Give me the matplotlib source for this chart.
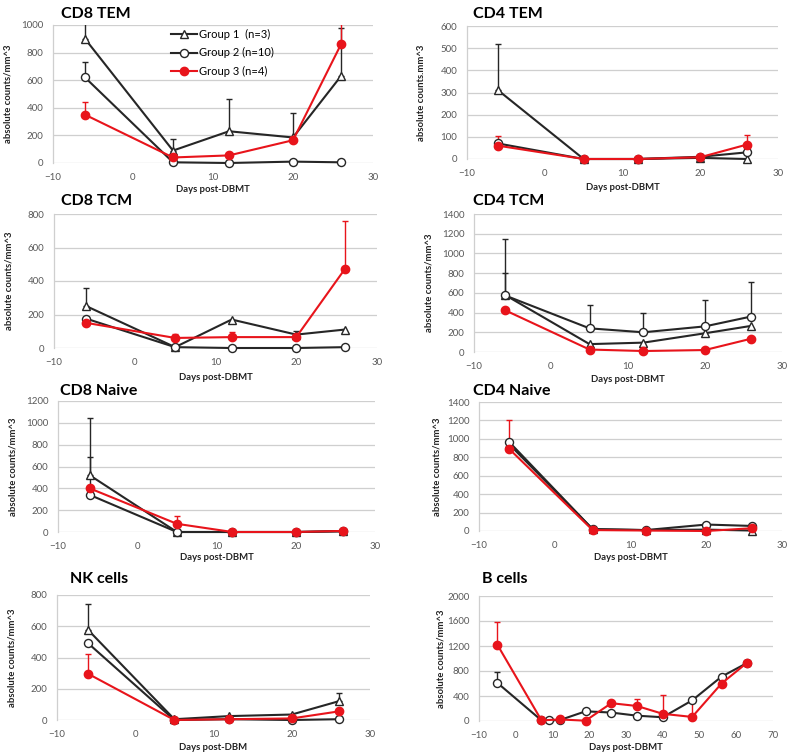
import numpy as np
import matplotlib
matplotlib.use('Agg')
import matplotlib.pyplot as plt

plt.rcParams['font.family'] = ['Lato', 'DejaVu Sans']

# ---------------- data ----------------
days = [-6, 5, 12, 20, 26]
group_labels = ['Group 1  (n=3)', 'Group 2 (n=10)', 'Group 3 (n=4)']

# CD8 TEM
cd8tem_g1 = [900, 90, 230, 185, 630]
cd8tem_g1_err = [160, 85, 235, 180, 350]
cd8tem_g2 = [620, 5, 0, 10, 5]
cd8tem_g2_err = [110, 0, 0, 0, 0]
cd8tem_g3 = [350, 40, 55, 165, 860]
cd8tem_g3_err = [95, 0, 0, 0, 200]

# CD4 TEM
cd4tem_g1 = [310, 0, 0, 5, 0]
cd4tem_g1_err = [210, 0, 0, 0, 0]
cd4tem_g2 = [70, 0, 0, 10, 30]
cd4tem_g2_err = [0, 0, 0, 0, 0]
cd4tem_g3 = [60, 0, 0, 8, 65]
cd4tem_g3_err = [45, 0, 0, 0, 45]

# CD8 TCM
cd8tcm_g1 = [250, 5, 170, 80, 110]
cd8tcm_g1_err = [110, 0, 0, 20, 0]
cd8tcm_g2 = [175, 5, 0, 0, 5]
cd8tcm_g2_err = [0, 0, 0, 0, 0]
cd8tcm_g3 = [150, 60, 65, 65, 470]
cd8tcm_g3_err = [0, 25, 30, 0, 290]

# CD4 TCM
cd4tcm_g1 = [580, 80, 95, 190, 265]
cd4tcm_g1_err = [220, 0, 0, 0, 0]
cd4tcm_g2 = [575, 240, 200, 260, 360]
cd4tcm_g2_err = [575, 240, 200, 265, 355]
cd4tcm_g3 = [425, 25, 10, 20, 135]
cd4tcm_g3_err = [0, 0, 0, 0, 0]

# CD8 Naive
cd8n_g1 = [520, 0, 0, 0, 10]
cd8n_g1_err = [520, 0, 0, 0, 0]
cd8n_g2 = [340, 0, 0, 0, 5]
cd8n_g2_err = [350, 0, 0, 0, 0]
cd8n_g3 = [400, 75, 0, 0, 10]
cd8n_g3_err = [0, 70, 0, 0, 0]

# CD4 Naive
cd4n_g1 = [940, 20, 10, 15, 5]
cd4n_g1_err = [0, 0, 0, 0, 0]
cd4n_g2 = [965, 20, 10, 70, 55]
cd4n_g2_err = [0, 0, 0, 0, 0]
cd4n_g3 = [890, 10, 5, 0, 30]
cd4n_g3_err = [310, 0, 0, 0, 0]

# NK cells
nk_g1 = [575, 5, 25, 35, 120]
nk_g1_err = [170, 0, 0, 0, 50]
nk_g2 = [490, 0, 5, 0, 5]
nk_g2_err = [0, 0, 0, 0, 0]
nk_g3 = [295, 0, 5, 10, 55]
nk_g3_err = [125, 0, 0, 0, 0]

# B cells
bcell_days_g2 = [-5, 7, 9, 12, 19, 26, 33, 40, 48, 56, 63]
bcell_g2 = [610, 10, 10, 15, 155, 135, 85, 60, 330, 710, 930]
bcell_g2_err = [175, 0, 0, 0, 0, 0, 0, 0, 0, 0, 0]
bcell_days_g3 = [-5, 7, 12, 19, 26, 33, 40, 48, 56, 63]
bcell_g3 = [1220, 10, 25, 5, 285, 240, 115, 65, 600, 935]
bcell_g3_err = [365, 0, 0, 0, 0, 110, 300, 270, 0, 0]

# ---------------- styling ----------------
BLACK = '#262626'
RED = '#e8141b'
GRID = '#cfcfcf'
TICKC = '#595959'

styles = [
    dict(color=BLACK, marker='^', mfc='white', mec=BLACK, ms=5.5, lw=1.5, mew=1.0),
    dict(color=BLACK, marker='o', mfc='white', mec=BLACK, ms=5.8, lw=1.5, mew=1.0),
    dict(color=RED, marker='o', mfc=RED, mec=RED, ms=6.0, lw=1.5, mew=1.0),
]

W, H = 800, 755
fig = plt.figure(figsize=(W / 100, H / 100), dpi=100)


def add_panel(box, title, title_xy, ymax, ystep, xmax, xlabel, xlabel_y,
              ylabel, ylabel_x, series, legend=False):
    l, r, t, b = box
    ax = fig.add_axes([l / W, 1 - b / H, (r - l) / W, (b - t) / H])
    ax.set_xlim(-10, xmax)
    ax.set_ylim(0, ymax)
    ax.set_xticks(np.arange(-10, xmax + 1, 10))
    ax.set_yticks(np.arange(0, ymax + 1, ystep))
    ax.grid(axis='y', color=GRID, lw=0.9)
    ax.set_axisbelow(True)
    for s in ['top', 'right', 'bottom']:
        ax.spines[s].set_visible(False)
    ax.spines['left'].set_color(GRID)
    ax.spines['left'].set_linewidth(0.9)
    ax.tick_params(length=0, labelsize=7, labelcolor=TICKC)
    ax.tick_params(axis='y', pad=7)
    ax.tick_params(axis='x', pad=7)
    handles = []
    for (xs, ys, errs), st, lab in zip(series, styles, group_labels):
        xs = np.asarray(xs, float)
        ys = np.asarray(ys, float)
        errs = np.asarray(errs, float)
        m = errs > 0
        if m.any():
            ax.errorbar(xs[m], ys[m], yerr=[np.zeros(m.sum()), errs[m]],
                        fmt='none', ecolor=st['color'], elinewidth=1.0,
                        capsize=2.2, capthick=1.0, zorder=2)
        h, = ax.plot(xs, ys, clip_on=False, zorder=3, label=lab, **st)
        handles.append(h)
    fig.text(title_xy[0] / W, 1 - title_xy[1] / H, title, fontsize=11.5,
             fontweight='bold', ha='left', va='center', color='black')
    fig.text((l + r) / 2 / W, 1 - xlabel_y / H, xlabel, fontsize=6.8,
             fontweight='bold', ha='center', va='center', color='#222222')
    ax.set_ylabel(ylabel, fontsize=6.8, fontweight='bold', color='#222222')
    ax.yaxis.set_label_coords((ylabel_x + 5 - l) / (r - l), 0.5)
    if legend:
        ax.legend(handles=handles, loc='upper left',
                  bbox_to_anchor=(0.37, 0.97), frameon=False, fontsize=8,
                  handlelength=2.3, handletextpad=0.2, labelspacing=0.65,
                  borderpad=0, borderaxespad=0)
    return ax


add_panel((53, 373, 25, 163), 'CD8 TEM', (61, 14), 1000, 200, 30,
          'Days post-DBMT', 190, 'absolute counts/mm^3', 8,
          [(days, cd8tem_g1, cd8tem_g1_err), (days, cd8tem_g2, cd8tem_g2_err),
           (days, cd8tem_g3, cd8tem_g3_err)], legend=True)

add_panel((467, 778, 26, 159), 'CD4 TEM', (473, 14), 600, 100, 30,
          'Days post-DBMT', 188, 'absolute counts.mm^3', 421,
          [(days, cd4tem_g1, cd4tem_g1_err), (days, cd4tem_g2, cd4tem_g2_err),
           (days, cd4tem_g3, cd4tem_g3_err)])

add_panel((54, 377, 214, 348), 'CD8 TCM', (61, 201), 800, 200, 30,
          'Days post-DBMT', 377, 'absolute counts/mm^3', 9,
          [(days, cd8tcm_g1, cd8tcm_g1_err), (days, cd8tcm_g2, cd8tcm_g2_err),
           (days, cd8tcm_g3, cd8tcm_g3_err)])

add_panel((474, 782, 214, 352), 'CD4 TCM', (473, 201), 1400, 200, 30,
          'Days post-DBMT', 380, 'absolute counts/mm^3', 429,
          [(days, cd4tcm_g1, cd4tcm_g1_err), (days, cd4tcm_g2, cd4tcm_g2_err),
           (days, cd4tcm_g3, cd4tcm_g3_err)])

add_panel((58, 375, 401, 532), 'CD8 Naive', (60, 391), 1200, 200, 30,
          'Days post-DBMT', 557, 'absolute counts/mm^3', 13,
          [(days, cd8n_g1, cd8n_g1_err), (days, cd8n_g2, cd8n_g2_err),
           (days, cd8n_g3, cd8n_g3_err)])

add_panel((479, 782, 402, 531), 'CD4 Naive', (473, 391), 1400, 200, 30,
          'Days post-DBMT', 557, 'absolute counts/mm^3', 436,
          [(days, cd4n_g1, cd4n_g1_err), (days, cd4n_g2, cd4n_g2_err),
           (days, cd4n_g3, cd4n_g3_err)])

add_panel((57, 370, 595, 720), 'NK cells', (70, 579), 800, 200, 30,
          'Days post-DBM', 747, 'absolute counts/mm^3', 12,
          [(days, nk_g1, nk_g1_err), (days, nk_g2, nk_g2_err),
           (days, nk_g3, nk_g3_err)])

ax_b = add_panel((479, 773, 596, 721), 'B cells', (482, 579), 2000, 400, 70,
                 'Days post-DBMT', 747, 'absolute counts/mm^3', 440,
                 [([], [], []), (bcell_days_g2, bcell_g2, bcell_g2_err),
                  (bcell_days_g3, bcell_g3, bcell_g3_err)])

fig.savefig('out.png', dpi=100, facecolor='white')
